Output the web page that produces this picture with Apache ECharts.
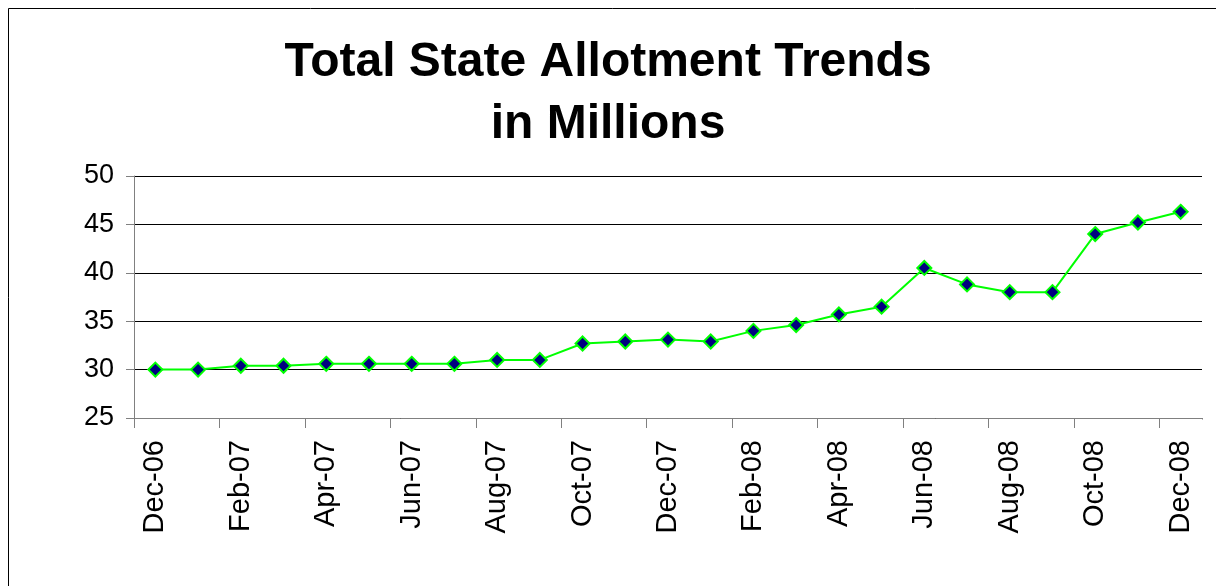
<!DOCTYPE html>
<html>
<head>
<meta charset="utf-8">
<script src="https://cdn.jsdelivr.net/npm/echarts@6/dist/echarts.min.js"></script>
<style>
html,body{margin:0;padding:0;background:#fff;}
#chart{width:1216px;height:586px;}
</style>
</head>
<body>
<div id="chart"></div>
<script>
var titleText = 'Total State Allotment Trends\nin Millions';
var months = ['Dec-06','Jan-07','Feb-07','Mar-07','Apr-07','May-07','Jun-07','Jul-07','Aug-07','Sep-07','Oct-07','Nov-07',
  'Dec-07','Jan-08','Feb-08','Mar-08','Apr-08','May-08','Jun-08','Jul-08','Aug-08','Sep-08','Oct-08','Nov-08','Dec-08'];
var allotment = [30.0, 30.0, 30.4, 30.4, 30.6, 30.6, 30.6, 30.6, 31.0, 31.0, 32.7, 32.9,
  33.1, 32.9, 34.0, 34.6, 35.7, 36.5, 40.5, 38.8, 38.0, 38.0, 44.0, 45.2, 46.3];
var yMin = 25, yMax = 50, yStep = 5;

var chart = echarts.init(document.getElementById('chart'), null, {renderer: 'canvas'});
chart.setOption({
  animation: false,
  backgroundColor: '#fff',
  textStyle: {fontFamily: 'Liberation Sans, Arial, sans-serif'},
  graphic: [{
    type: 'polyline',
    silent: true,
    shape: {points: [[8.5, 700], [8.5, 8.5], [1300, 8.5]]},
    style: {stroke: '#000', lineWidth: 1, fill: null}
  }, {
    type: 'rect',
    silent: true,
    z: 100,
    shape: {x: 1199, y: 419.5, width: 8, height: 12},
    style: {fill: '#fff'}
  }],
  title: {
    text: titleText,
    left: 'center',
    top: 32,
    padding: [0, 0, 0, 18],
    textStyle: {
      fontFamily: 'Liberation Sans, Arial, sans-serif',
      fontSize: 48, fontWeight: 'bold', color: '#000', lineHeight: 62
    }
  },
  grid: {left: 134, right: 14, top: 176, bottom: 168, containLabel: false},
  xAxis: {
    type: 'category',
    data: months,
    boundaryGap: true,
    axisLine: {lineStyle: {color: '#808080', width: 1}},
    axisTick: {show: true, length: 10, interval: 1, lineStyle: {color: '#808080'}},
    axisLabel: {
      interval: 1, rotate: 90, margin: 22,
      fontSize: 29, color: '#000',
      fontFamily: 'Liberation Sans, Arial, sans-serif'
    },
    splitLine: {show: false}
  },
  yAxis: {
    type: 'value',
    min: yMin, max: yMax, interval: yStep,
    axisLine: {show: true, lineStyle: {color: '#808080', width: 1}},
    axisTick: {show: true, length: 8, lineStyle: {color: '#808080'}},
    axisLabel: {
      margin: 20, fontSize: 27, color: '#000',
      fontFamily: 'Liberation Sans, Arial, sans-serif'
    },
    splitLine: {show: true, lineStyle: {color: '#000', width: 1}}
  },
  series: [{
    type: 'line',
    data: allotment,
    symbol: 'diamond',
    symbolSize: 14,
    showAllSymbol: true,
    lineStyle: {color: '#00ff00', width: 2},
    itemStyle: {color: '#000080', borderColor: '#00ff00', borderWidth: 2}
  }]
});
</script>
</body>
</html>
